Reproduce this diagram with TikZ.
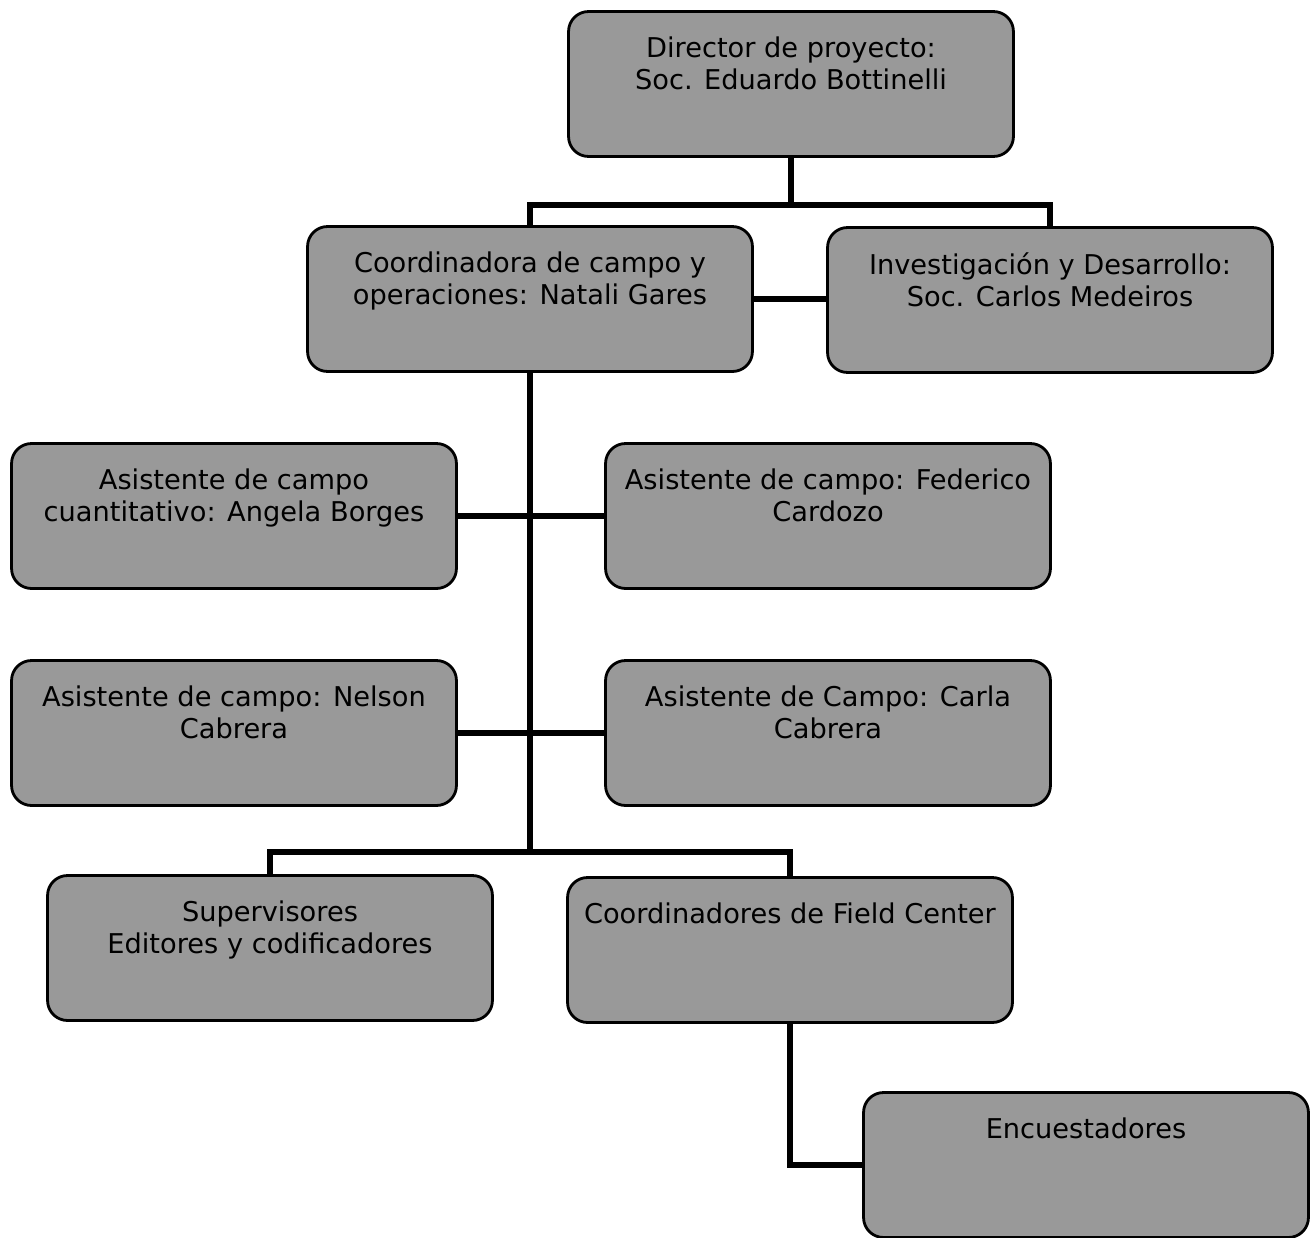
\documentclass[tikz,border=0pt]{standalone}
\usepackage{fontspec}
\setmainfont{DejaVu Sans}
\usepackage{tikz}
\usetikzlibrary{positioning, calc}

% text block inside each box, set at the top
\newcommand{\boxtxt}[1]{\parbox[c][2.9cm][t]{8.9cm}{\centering\vspace{0.5cm}#1}}

\begin{document}
\begin{tikzpicture}[x=0.02cm, y=-0.02cm,
  orgbox/.style={draw, line width=1.6pt, rounded corners=0.4cm, fill=black!40, inner sep=0pt,
    font=\fontsize{15.5}{18.5}\selectfont},
  conn/.style={line width=3pt}]
  % Frame
  \useasboundingbox (0,0) rectangle (1316,1238);

  % --- TOP LEVEL ---
  \node[orgbox] (dir) at (791,84) {\boxtxt{Director de proyecto:\\Soc. Eduardo Bottinelli}};

  % --- SECOND LEVEL ---
  \node[orgbox] (coord) at (530,299) {\boxtxt{Coordinadora de campo y\\operaciones: Natali Gares}};
  \node[orgbox] (invest) at (1050,300) {\boxtxt{Investigación y Desarrollo:\\Soc. Carlos Medeiros}};

  % --- FIELD ASSISTANTS ---
  \node[orgbox] (angela) at (234,516) {\boxtxt{Asistente de campo\\cuantitativo: Angela Borges}};
  \node[orgbox] (federico) at (828,516) {\boxtxt{Asistente de campo: Federico\\Cardozo}};
  \node[orgbox] (nelson) at (234,733) {\boxtxt{Asistente de campo: Nelson\\Cabrera}};
  \node[orgbox] (carla) at (828,733) {\boxtxt{Asistente de Campo: Carla\\Cabrera}};

  % --- BOTTOM LEVEL ---
  \node[orgbox] (superv) at (270,948) {\boxtxt{Supervisores\\Editores y codificadores}};
  \node[orgbox] (fieldc) at (790,950) {\boxtxt{Coordinadores de Field Center}};
  \node[orgbox] (encuest) at (1086,1165) {\boxtxt{Encuestadores}};

  % Bus points
  \coordinate (topbus) at (791,205);
  \coordinate (lowbus) at (530,852);

  % Connectors
  \draw[conn] (dir.south) -- (topbus);
  \draw[conn] (coord.north) |- (topbus) -| (invest.north);
  \draw[conn] (coord.east) -- (coord.east -| invest.west);
  \draw[conn] (coord.south) -- (lowbus);
  \draw[conn] (angela.east) -- (federico.west);
  \draw[conn] (nelson.east) -- (carla.west);
  \draw[conn] (superv.north) |- (lowbus) -| (fieldc.north);
  \draw[conn] (fieldc.south) |- (encuest.west);
\end{tikzpicture}
\end{document}
